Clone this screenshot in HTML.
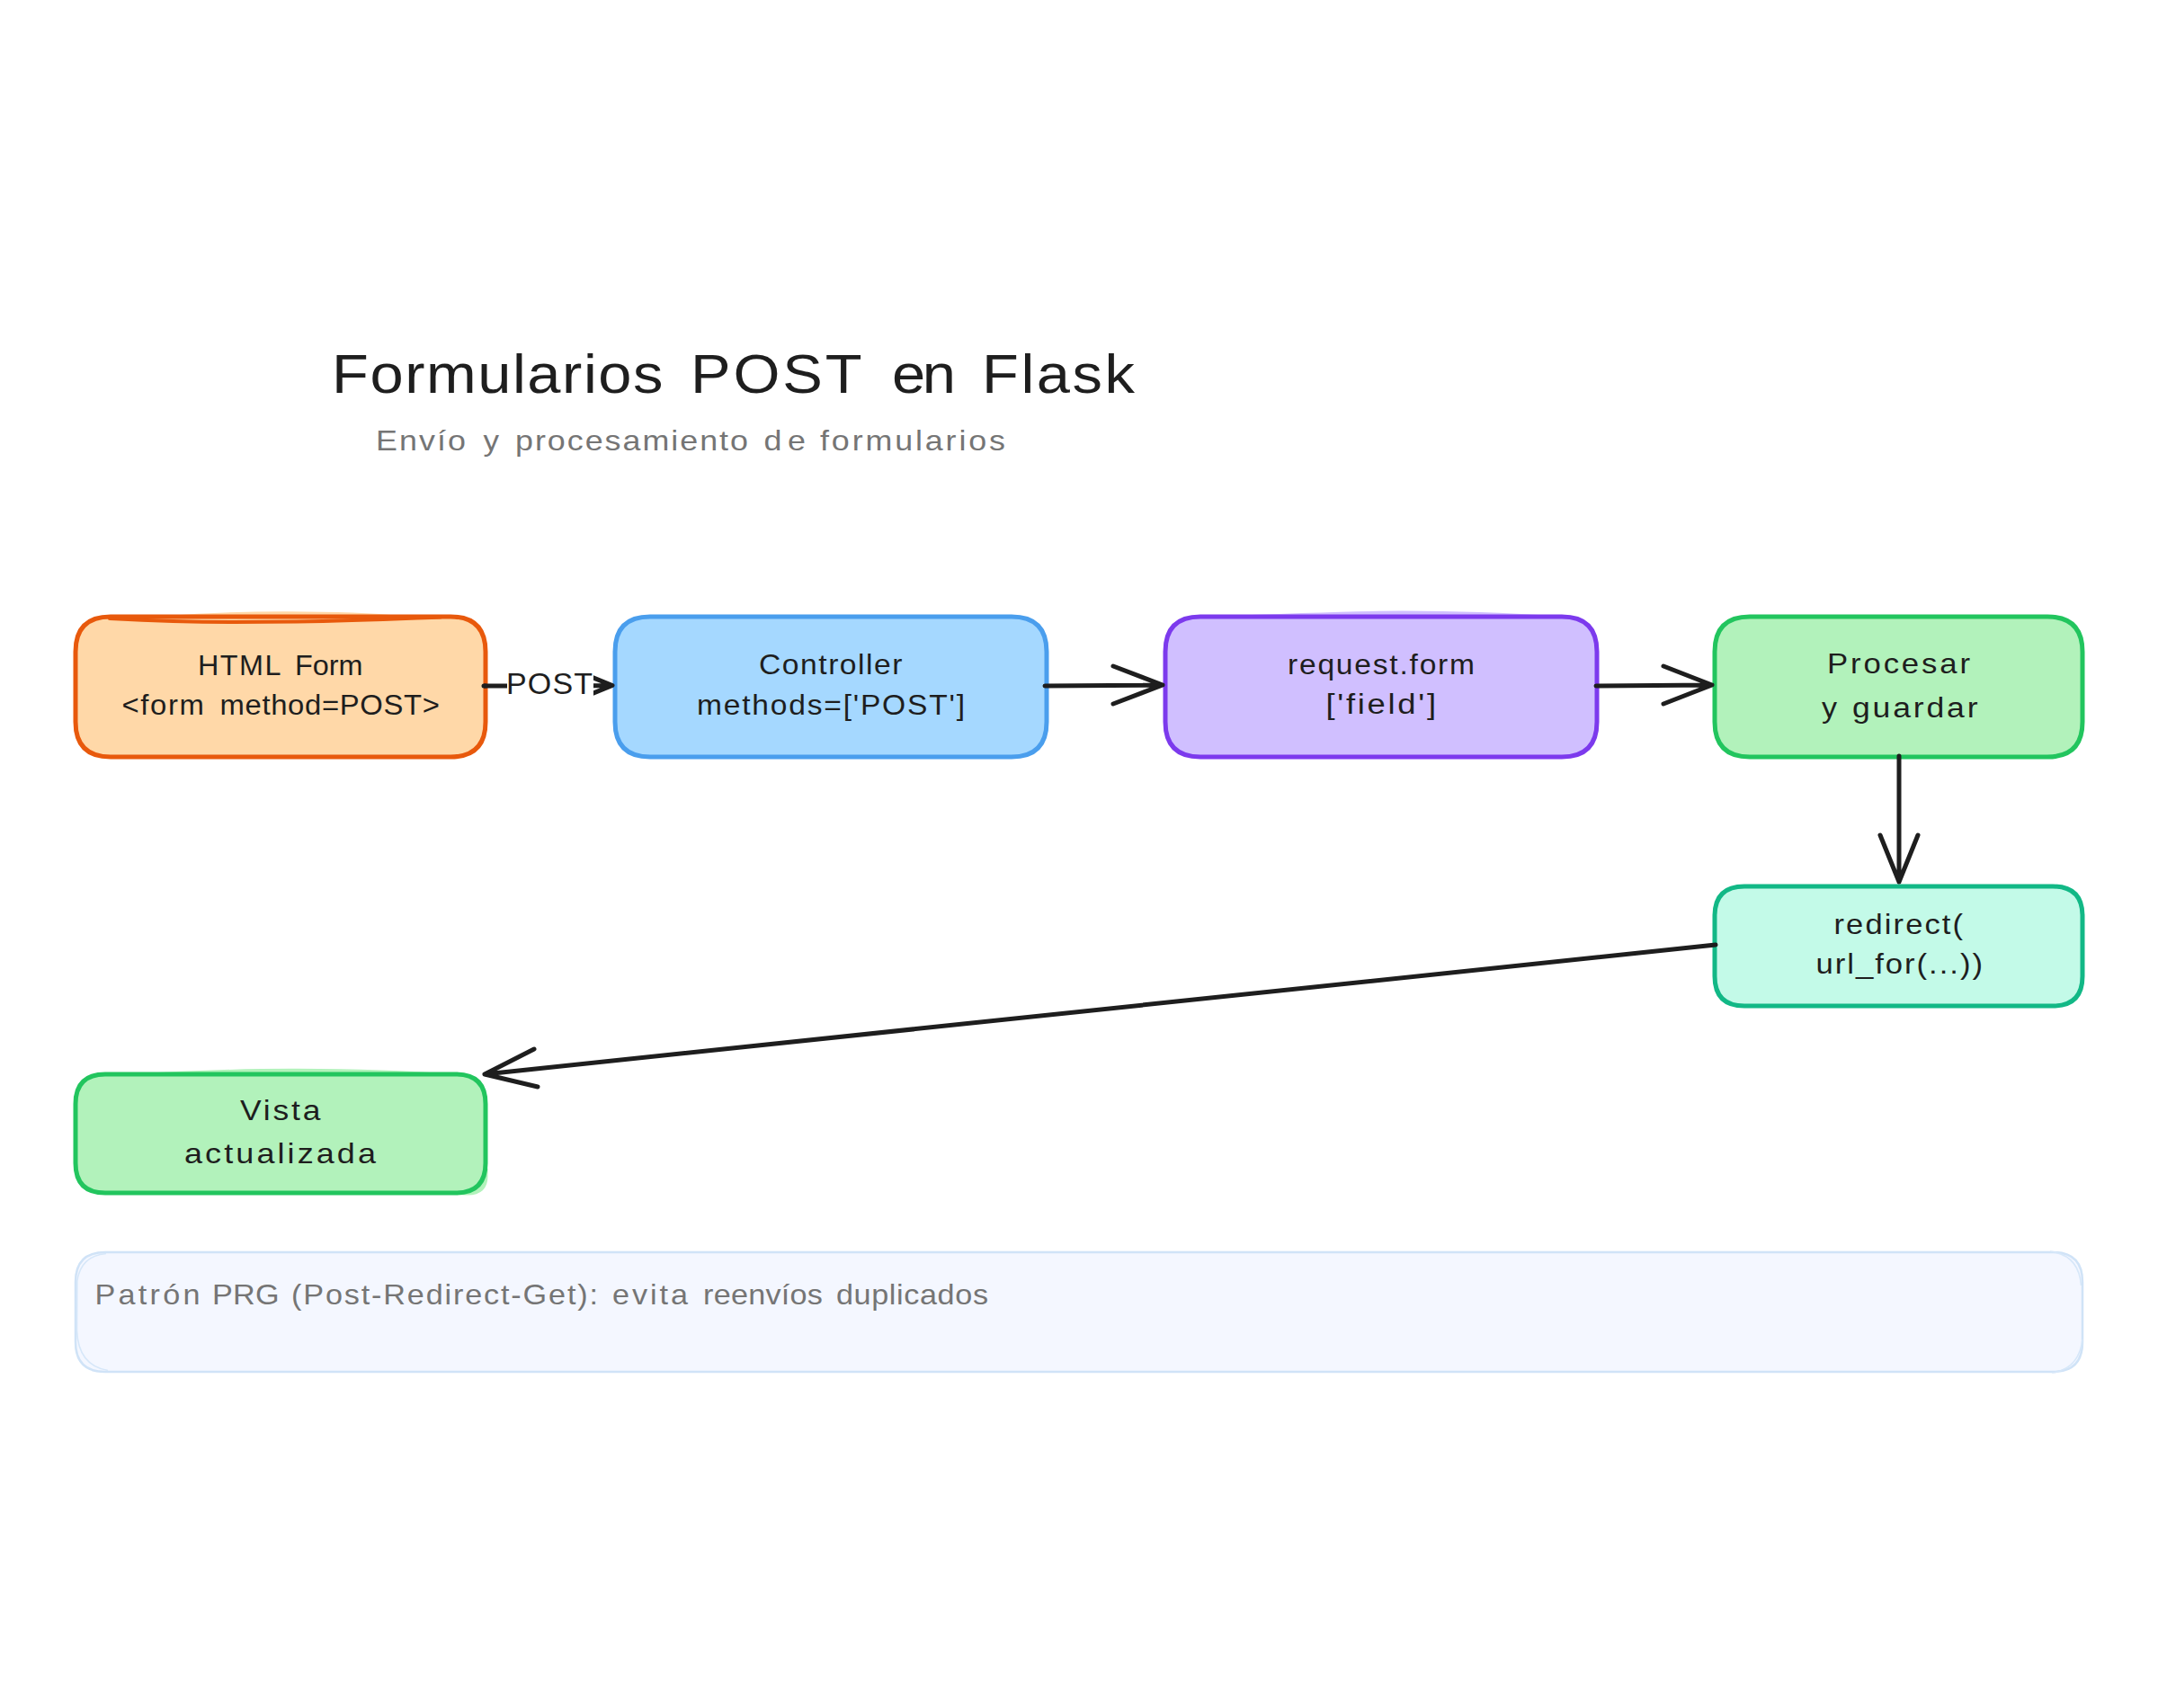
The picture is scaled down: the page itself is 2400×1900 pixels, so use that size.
<!DOCTYPE html>
<html>
<head>
<meta charset="utf-8">
<style>
html,body{margin:0;padding:0;background:#ffffff;}
body{width:2400px;height:1900px;overflow:hidden;}
svg{display:block;}
text{font-family:"Liberation Sans",sans-serif;}
</style>
</head>
<body>
<svg width="2400" height="1900" viewBox="0 0 2400 1900">
<rect x="0" y="0" width="2400" height="1900" fill="#ffffff"/>
<defs>
<clipPath id="postclip"><rect x="660" y="700" width="40" height="120"/></clipPath>
</defs>
<path d="M185 685 Q 250 680 320 680.2 Q 400 680.5 447 685 Z" fill="#ffd8a8"/>
<path d="M1340 686 Q 1500 679.5 1560 679.6 Q 1650 680 1725 685 Z" fill="#d0bfff"/>
<path d="M140 1195 Q 250 1188.6 330 1188.8 Q 430 1189 505 1195 Z" fill="#b2f2bb"/>
<path d="M500 1300 L542.5 1300 L542.5 1308 Q 542.5 1329.5 520 1329.5 L500 1329 Z" fill="#b2f2bb"/>
<g stroke-width="5" stroke-linejoin="round">
<path d="M123 686 L501 686 Q540 686 540 725 L540 803 Q540 842 501 842 L123 842 Q84 842 84 803 L84 725 Q84 686 123 686 Z" fill="#ffd8a8" stroke="#e8590c"/>
<path d="M723 686 L1125 686 Q1164 686 1164 725 L1164 803 Q1164 842 1125 842 L723 842 Q684 842 684 803 L684 725 Q684 686 723 686 Z" fill="#a5d8ff" stroke="#4a9eed"/>
<path d="M1335 686 L1737 686 Q1776 686 1776 725 L1776 803 Q1776 842 1737 842 L1335 842 Q1296 842 1296 803 L1296 725 Q1296 686 1335 686 Z" fill="#d0bfff" stroke="#7c3aed"/>
<path d="M1946 686 L2277 686 Q2316 686 2316 725 L2316 803 Q2316 842 2277 842 L1946 842 Q1907 842 1907 803 L1907 725 Q1907 686 1946 686 Z" fill="#b2f2bb" stroke="#22c55e"/>
<path d="M1940 986 L2283 986 Q2316 986 2316 1019 L2316 1086 Q2316 1119 2283 1119 L1940 1119 Q1907 1119 1907 1086 L1907 1019 Q1907 986 1940 986 Z" fill="#c3fae8" stroke="#12b886"/>
<path d="M117 1195 L507 1195 Q540 1195 540 1228 L540 1294 Q540 1327 507 1327 L117 1327 Q84 1327 84 1294 L84 1228 Q84 1195 117 1195 Z" fill="#b2f2bb" stroke="#22c55e"/>
</g>
<path d="M122 688 C 160 690, 200 692, 260 692 L 330 691.5 C 400 690.5, 450 688, 490 686.5" fill="none" stroke="#e8590c" stroke-width="4.2" stroke-linecap="round"/>
<path d="M117 1393 L2283 1393 Q2316 1393 2316 1426 L2316 1493 Q2316 1526 2283 1526 L117 1526 Q84 1526 84 1493 L84 1426 Q84 1393 117 1393 Z" fill="#f4f7ff" stroke="#d0e3f7" stroke-width="2.5"/>
<path d="M118 1394.5 Q 90 1397 85.8 1425 L 85.5 1480 Q 87 1519 120 1524.5" fill="none" stroke="#d6e7f9" stroke-width="1.6"/>
<path d="M2280 1392 Q 2312 1396 2314.5 1430 M 2316 1490 Q 2312 1523 2282 1527" fill="none" stroke="#d6e7f9" stroke-width="1.6"/>
<g stroke="#1e1e1e" stroke-width="5" fill="none" stroke-linecap="round" stroke-linejoin="round">
<path d="M538 763 L564 763" stroke-linecap="butt"/><path d="M538 763 L540 763"/>
<g clip-path="url(#postclip)"><path d="M620 763 L681 762.5 M630 742 L681 762.5 L630 783" stroke-linecap="butt"/></g>
<path d="M1162 763 L1293 762 M1238 741 L1293 762 L1238 783"/>
<path d="M1775 763 L1904 762 M1850 741 L1904 762 L1850 783"/>
<path d="M2112 841 L2112 981 M2091 929 L2112 981 L2133 929"/>
<path d="M1908 1051 L539 1195 M594 1167 L539 1195 L598 1209"/>
</g>
<text x="369.00" y="437" font-size="62" fill="#1e1e1e" textLength="341.67" lengthAdjust="spacing" transform="translate(369.00 0) scale(1.0785 1) translate(-369.00 0)">Formularios</text>
<text x="768.00" y="437" font-size="62" fill="#1e1e1e" textLength="176.63" lengthAdjust="spacing" transform="translate(768.00 0) scale(1.0785 1) translate(-768.00 0)">POST</text>
<text x="992.00" y="437" font-size="62" fill="#1e1e1e" textLength="65.83" lengthAdjust="spacing" transform="translate(992.00 0) scale(1.0785 1) translate(-992.00 0)">en</text>
<text x="1092.00" y="437" font-size="62" fill="#1e1e1e" textLength="157.62" lengthAdjust="spacing" transform="translate(1092.00 0) scale(1.0785 1) translate(-1092.00 0)">Flask</text>
<text x="418.00" y="501" font-size="31" fill="#757575" textLength="86.45" lengthAdjust="spacing" transform="translate(418.00 0) scale(1.1568 1) translate(-418.00 0)">Envío</text>
<text x="537.50" y="501" font-size="31" fill="#757575" textLength="17.52" lengthAdjust="spacingAndGlyphs">y</text>
<text x="573.00" y="501" font-size="31" fill="#757575" textLength="223.90" lengthAdjust="spacing" transform="translate(573.00 0) scale(1.1568 1) translate(-573.00 0)">procesamiento</text>
<text x="849.50" y="501" font-size="31" fill="#757575" textLength="40.20" lengthAdjust="spacing" transform="translate(849.50 0) scale(1.1568 1) translate(-849.50 0)">de</text>
<text x="912.00" y="501" font-size="31" fill="#757575" textLength="178.08" lengthAdjust="spacing" transform="translate(912.00 0) scale(1.1568 1) translate(-912.00 0)">formularios</text>
<text x="220.00" y="751" font-size="31" fill="#1e1e1e" textLength="88.51" lengthAdjust="spacing" transform="translate(220.00 0) scale(1.0451 1) translate(-220.00 0)">HTML</text>
<text x="328.00" y="751" font-size="31" fill="#1e1e1e" textLength="72.24" lengthAdjust="spacing" transform="translate(328.00 0) scale(1.0451 1) translate(-328.00 0)">Form</text>
<text x="135.50" y="795" font-size="31" fill="#1e1e1e" textLength="86.33" lengthAdjust="spacing" transform="translate(135.50 0) scale(1.0599 1) translate(-135.50 0)">&lt;form</text>
<text x="244.50" y="795" font-size="31" fill="#1e1e1e" textLength="230.68" lengthAdjust="spacing" transform="translate(244.50 0) scale(1.0599 1) translate(-244.50 0)">method=POST&gt;</text>
<text x="563.00" y="771.5" font-size="34" fill="#1e1e1e" textLength="96.00" lengthAdjust="spacing">POST</text>
<text x="844.00" y="749.7" font-size="31" fill="#1e1e1e" textLength="146.95" lengthAdjust="spacing" transform="translate(844.00 0) scale(1.0854 1) translate(-844.00 0)">Controller</text>
<text x="775.00" y="794.8" font-size="31" fill="#1e1e1e" textLength="274.94" lengthAdjust="spacing" transform="translate(775.00 0) scale(1.0839 1) translate(-775.00 0)">methods=['POST']</text>
<text x="1432.00" y="750" font-size="31" fill="#1e1e1e" textLength="192.09" lengthAdjust="spacing" transform="translate(1432.00 0) scale(1.0828 1) translate(-1432.00 0)">request.form</text>
<text x="1474.50" y="794" font-size="31" fill="#1e1e1e" textLength="104.31" lengthAdjust="spacing" transform="translate(1474.50 0) scale(1.1744 1) translate(-1474.50 0)">['field']</text>
<text x="2032.00" y="749.5" font-size="31" fill="#1e1e1e" textLength="141.87" lengthAdjust="spacing" transform="translate(2032.00 0) scale(1.1208 1) translate(-2032.00 0)">Procesar</text>
<text x="2026.00" y="798" font-size="31" fill="#1e1e1e" textLength="17.04" lengthAdjust="spacingAndGlyphs">y</text>
<text x="2060.00" y="798" font-size="31" fill="#1e1e1e" textLength="121.40" lengthAdjust="spacing" transform="translate(2060.00 0) scale(1.1491 1) translate(-2060.00 0)">guardar</text>
<text x="2039.50" y="1039" font-size="31" fill="#1e1e1e" textLength="128.99" lengthAdjust="spacing" transform="translate(2039.50 0) scale(1.1125 1) translate(-2039.50 0)">redirect(</text>
<text x="2019.50" y="1083" font-size="31" fill="#1e1e1e" textLength="165.71" lengthAdjust="spacing" transform="translate(2019.50 0) scale(1.1195 1) translate(-2019.50 0)">url_for(...))</text>
<text x="267.00" y="1246.4" font-size="31" fill="#1e1e1e" textLength="78.21" lengthAdjust="spacing" transform="translate(267.00 0) scale(1.1444 1) translate(-267.00 0)">Vista</text>
<text x="205.00" y="1294" font-size="31" fill="#1e1e1e" textLength="183.18" lengthAdjust="spacing" transform="translate(205.00 0) scale(1.1628 1) translate(-205.00 0)">actualizada</text>
<text x="105.50" y="1451" font-size="31" fill="#757575" textLength="105.94" lengthAdjust="spacing" transform="translate(105.50 0) scale(1.1044 1) translate(-105.50 0)">Patrón</text>
<text x="236.00" y="1451" font-size="31" fill="#757575" textLength="67.46" lengthAdjust="spacing" transform="translate(236.00 0) scale(1.1044 1) translate(-236.00 0)">PRG</text>
<text x="324.00" y="1451" font-size="31" fill="#757575" textLength="308.75" lengthAdjust="spacing" transform="translate(324.00 0) scale(1.1044 1) translate(-324.00 0)">(Post-Redirect-Get):</text>
<text x="681.00" y="1451" font-size="31" fill="#757575" textLength="76.06" lengthAdjust="spacing" transform="translate(681.00 0) scale(1.1044 1) translate(-681.00 0)">evita</text>
<text x="782.00" y="1451" font-size="31" fill="#757575" textLength="120.42" lengthAdjust="spacing" transform="translate(782.00 0) scale(1.1044 1) translate(-782.00 0)">reenvíos</text>
<text x="930.00" y="1451" font-size="31" fill="#757575" textLength="153.02" lengthAdjust="spacing" transform="translate(930.00 0) scale(1.1044 1) translate(-930.00 0)">duplicados</text>
</svg>
</body>
</html>
